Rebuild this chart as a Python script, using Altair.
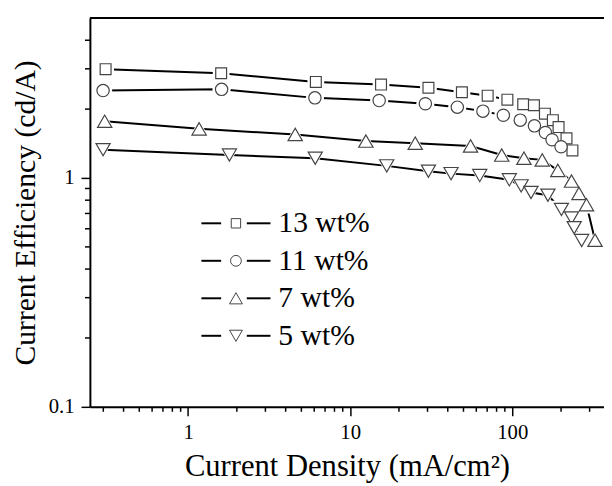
import altair as alt
import pandas as pd

# ---------------- data ----------------
series = ["13 wt%", "11 wt%", "7 wt%", "5 wt%"]

x13 = [0.31, 1.60, 6.14, 15.5, 30.4, 48.9, 70.5, 93.3, 116.8, 136, 159, 178, 193, 216, 235]
y13 = [2.99, 2.87, 2.63, 2.56, 2.48, 2.37, 2.29, 2.20, 2.10, 2.08, 1.91, 1.79, 1.67, 1.49, 1.32]

x11 = [0.299, 1.61, 6.06, 15.1, 29.1, 45.8, 65.9, 88.1, 112, 137, 160, 176, 200]
y11 = [2.41, 2.44, 2.24, 2.18, 2.11, 2.04, 1.96, 1.88, 1.79, 1.69, 1.58, 1.47, 1.37]

x7 = [0.306, 1.17, 4.58, 12.5, 25.2, 55.3, 86.1, 118, 153, 191, 232, 258, 287, 324]
y7 = [1.77, 1.64, 1.55, 1.45, 1.42, 1.38, 1.26, 1.22, 1.20, 1.08, 0.97, 0.856, 0.764, 0.535]

x5 = [0.299, 1.80, 6.09, 16.8, 30.4, 41.9, 63.0, 95.9, 113.4, 130.5, 166, 201, 232, 241, 268]
y5 = [1.33, 1.26, 1.22, 1.13, 1.07, 1.045, 1.025, 0.982, 0.924, 0.864, 0.841, 0.729, 0.669, 0.606, 0.533]

xs = [x13, x11, x7, x5]
ys = [y13, y11, y7, y5]

x_major = [1, 10, 100]
x_minor = [0.3, 0.4, 0.5, 0.6, 0.7, 0.8, 0.9, 2, 3, 4, 5, 6, 7, 8, 9,
           20, 30, 40, 50, 60, 70, 80, 90, 200, 300]
y_major = [0.1, 1]
y_minor = [0.2, 0.3, 0.4, 0.5, 0.6, 0.7, 0.8, 0.9, 2, 3, 4]

# ---------------- style / layout ----------------
shapes = ["square", "circle", "triangle-up", "triangle-down"]
sizes = [121, 156, 210, 205]
leg_sizes = [90, 120, 170, 170]
W, H = 521, 394
FONT = "Liberation Serif"
MK = "#444444"

leg_row_y = [208, 246, 284, 322]
leg_dash1 = (113, 133)
leg_mark_x = 148
leg_dash2 = (159, 183)
leg_text_x = 191

xscale = alt.Scale(type="log", domain=[0.248, 368], nice=False)
yscale = alt.Scale(type="log", domain=[0.1, 5], nice=False)

common_axis = dict(
    grid=False, domainColor="black", domainWidth=2, tickColor="black",
    tickWidth=1.5, tickSize=9, labelFont=FONT, labelFontSize=21,
    labelColor="black", titleFont=FONT,
    titleFontWeight="normal", titleColor="black", labelOverlap=False,
    labelFlush=False,
)
xaxis = alt.Axis(values=x_major, labelExpr="format(datum.value, 'd')",
                 title="Current Density (mA/cm²)", labelPadding=6,
                 titlePadding=10, titleFontSize=31, **common_axis)
yaxis = alt.Axis(values=y_major,
                 labelExpr="datum.value < 0.5 ? '0.1' : '1'",
                 title="Current Efficiency (cd/A)", labelPadding=7,
                 titlePadding=8, titleFontSize=30, **common_axis)

X = alt.X("x:Q", scale=xscale, axis=xaxis)
Y = alt.Y("y:Q", scale=yscale, axis=yaxis)

frames = []
for s, xv, yv in zip(series, xs, ys):
    frames.append(pd.DataFrame({"series": s, "x": xv, "y": yv}))

lines, halos, marks = [], [], []
for i, s in enumerate(series):
    d = frames[i]
    lines.append(alt.Chart(d).mark_line(color="black", strokeWidth=2).encode(x=X, y=Y))
    hs = (sizes[i] ** 0.5 + 6) ** 2
    halos.append(alt.Chart(d).mark_point(shape=shapes[i], size=hs, filled=True,
                                         color="white", opacity=1).encode(x=X, y=Y))
    marks.append(alt.Chart(d).mark_point(shape=shapes[i], size=sizes[i], fill="white",
                                         fillOpacity=1, stroke=MK, strokeWidth=1.2,
                                         opacity=1).encode(x=X, y=Y))

xminor_layer = alt.Chart(pd.DataFrame({"x": x_minor})).mark_rule(
    color="black", strokeWidth=1.5).encode(x=X, y=alt.value(H), y2=alt.value(H + 5))
yminor_layer = alt.Chart(pd.DataFrame({"y": y_minor})).mark_rule(
    color="black", strokeWidth=1.5).encode(y=Y, x=alt.value(-5), x2=alt.value(0))
top_line = alt.Chart(pd.DataFrame({"a": [0]})).mark_rule(
    color="black", strokeWidth=2).encode(x=alt.value(0), x2=alt.value(W), y=alt.value(0))

legend_layers = []
for i, s in enumerate(series):
    ld = pd.DataFrame({"label": [s]})
    ly = leg_row_y[i]
    legend_layers.append(alt.Chart(ld).mark_rule(color="black", strokeWidth=2).encode(
        x=alt.value(leg_dash1[0]), x2=alt.value(leg_dash1[1]), y=alt.value(ly)))
    legend_layers.append(alt.Chart(ld).mark_rule(color="black", strokeWidth=2).encode(
        x=alt.value(leg_dash2[0]), x2=alt.value(leg_dash2[1]), y=alt.value(ly)))
    legend_layers.append(alt.Chart(ld).mark_point(shape=shapes[i], size=leg_sizes[i],
                                                  fill="white", fillOpacity=1, stroke=MK,
                                                  strokeWidth=1, opacity=1).encode(
        x=alt.value(leg_mark_x), y=alt.value(ly)))
    legend_layers.append(alt.Chart(ld).mark_text(align="left", baseline="middle",
                                                 font=FONT, fontSize=30, color="black").encode(
        x=alt.value(leg_text_x), y=alt.value(ly), text="label:N"))

chart = alt.layer(
    *lines, *halos, *marks, xminor_layer, yminor_layer, top_line, *legend_layers
).properties(
    width=W, height=H,
    padding={"left": 83, "top": 7, "right": 0, "bottom": 75},
    autosize=alt.AutoSizeParams(type="none"),
).configure_view(stroke=None).configure(background="white")

chart.save("out.html", embed_options={"renderer": "svg", "actions": False})
